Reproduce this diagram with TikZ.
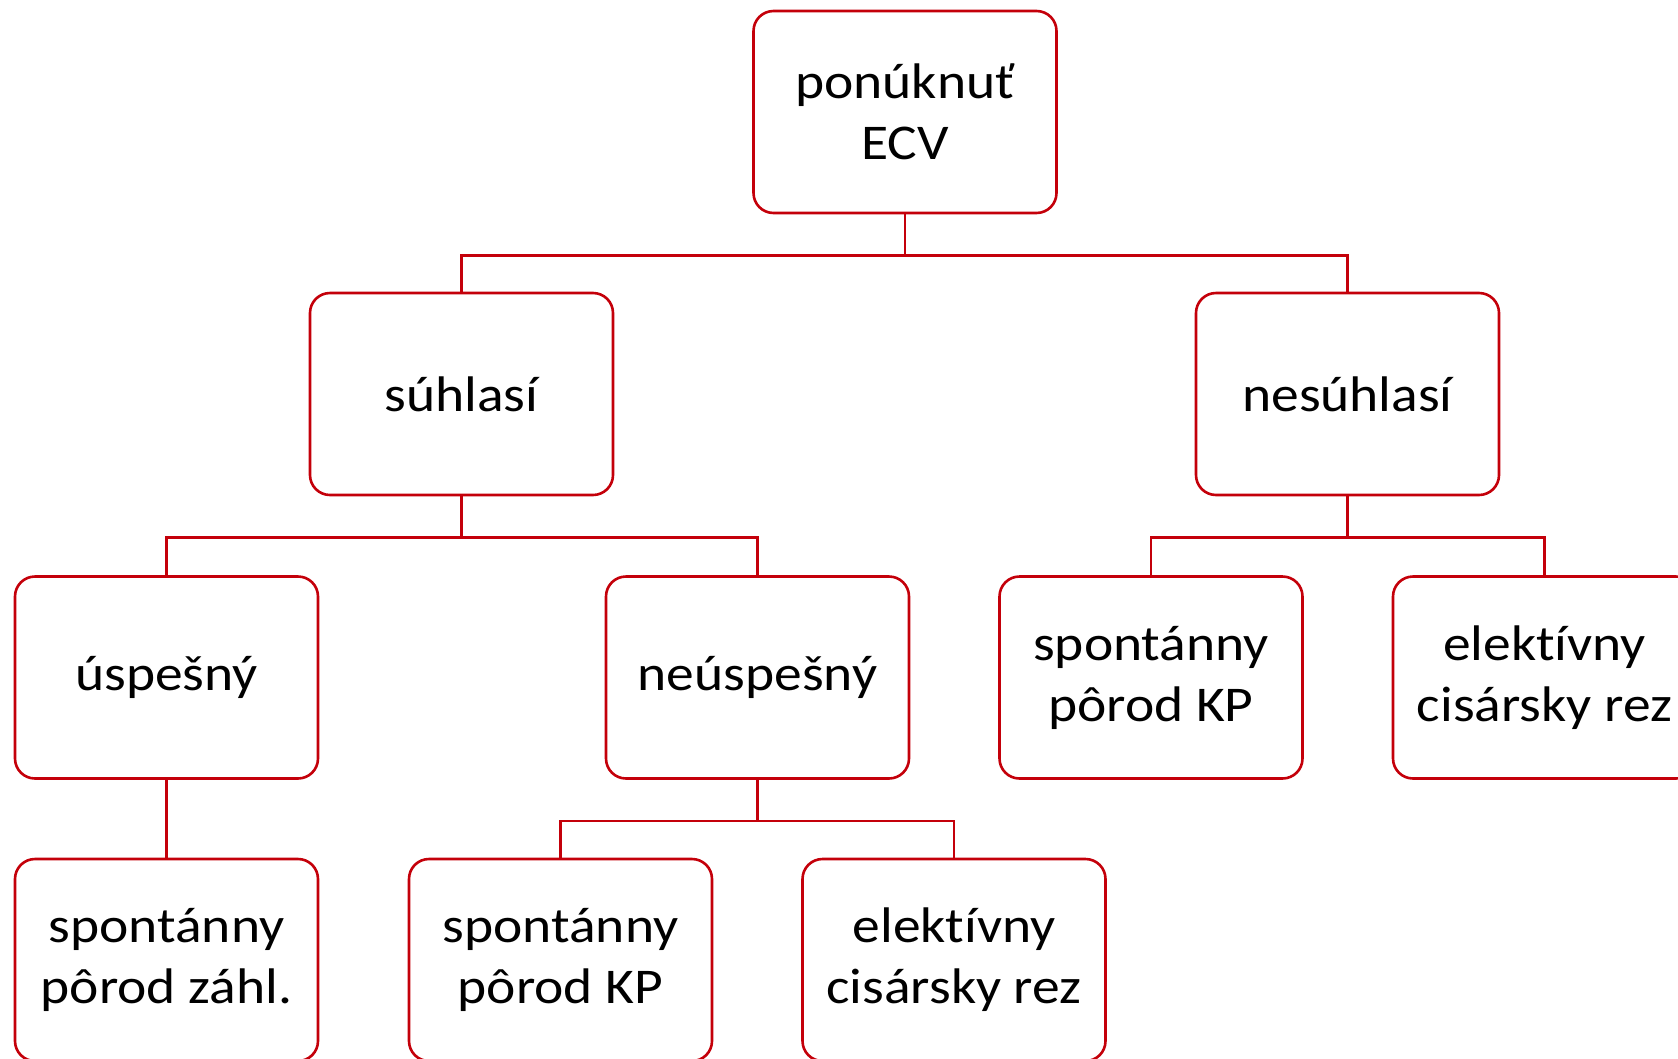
\documentclass[tikz,border=0pt]{standalone}
\usepackage{fontspec}
\setmainfont{Carlito}[FakeStretch=1.11,Ligatures=NoCommon]
\usetikzlibrary{
  positioning
}
\definecolor{ecvred}{RGB}{196,0,10}

\begin{document}
\begin{tikzpicture}[
    x=1pt, y=-1pt,
    box/.style={
      rectangle,
      rounded corners=20pt,
      draw=ecvred,
      line width=2.6pt,
      fill=white,
      inner sep=0pt,
      minimum width=303pt,
      minimum height=202pt,
      align=center,
      font=\fontsize{50}{61}\selectfont
    },
    link/.style={
      draw=ecvred,
      line width=2.6pt
    }
  ]
  \useasboundingbox (0,0) rectangle (1678,1058);
  \clip (0,0) rectangle (1678,1058);

  % top
  \node[box] (ecv) at (905,112) {ponúknuť\\ECV};

  % first level
  \node[box] (suhlasi) at (461.5,394) {súhlasí};
  \node[box] (nesuhlasi) at (1347.5,394) {nesúhlasí};

  % second level
  \node[box] (uspesny) at (166.5,677.5) {úspešný};
  \node[box] (neuspesny) at (757.5,677.5) {neúspešný};
  \node[box] (spontKPa) at (1151,677.5) {spontánny\\pôrod KP};
  \node[box] (elektivnya) at (1544.5,677.5) {elektívny\\cisársky rez};

  % third level
  \node[box] (spontZahl) at (166.5,960) {spontánny\\pôrod záhl.};
  \node[box] (spontKPb) at (560.5,960) {spontánny\\pôrod KP};
  \node[box] (elektivnyb) at (954,960) {elektívny\\cisársky rez};

  \draw[link] (ecv.south) -- ++(0,41) -| (suhlasi.north);
  \draw[link] (ecv.south) -- ++(0,41) -| (nesuhlasi.north);
  \draw[link] (suhlasi.south) -- ++(0,41) -| (uspesny.north);
  \draw[link] (suhlasi.south) -- ++(0,41) -| (neuspesny.north);
  \draw[link] (nesuhlasi.south) -- ++(0,41) -| (spontKPa.north);
  \draw[link] (nesuhlasi.south) -- ++(0,41) -| (elektivnya.north);
  \draw[link] (uspesny.south) -- (spontZahl.north);
  \draw[link] (neuspesny.south) -- ++(0,41) -| (spontKPb.north);
  \draw[link] (neuspesny.south) -- ++(0,41) -| (elektivnyb.north);
\end{tikzpicture}
\end{document}
